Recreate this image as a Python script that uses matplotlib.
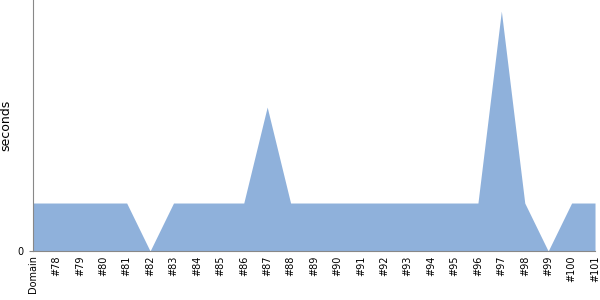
import matplotlib
matplotlib.use('Agg')
import matplotlib.pyplot as plt

# Categorias del eje x y valores (segundos)
categorias = ['Domain'] + [f'#{n}' for n in range(78, 102)]
valores = [1,                      # Domain
           1, 1, 1, 1, 0,          # #78-#82
           1, 1, 1, 1, 3,          # #83-#87
           1, 1, 1, 1, 1,          # #88-#92
           1, 1, 1, 1, 5,          # #93-#97
           1, 0, 1, 1]             # #98-#101

fig = plt.figure(figsize=(6, 3), dpi=100)
ax = fig.add_axes([0.055, 0.1633, 0.9367, 0.8367])

x = list(range(len(categorias)))
ax.fill_between(x, 0, valores, color='#8fb1db', linewidth=0)

ax.set_xlim(0, len(categorias) - 1)
ax.set_ylim(0, 5.23)
ax.set_xticks(x)
ax.set_xticklabels(categorias, rotation=90, fontsize=7)
ax.set_yticks([0])
ax.set_yticklabels(['0'], fontsize=7)
ax.set_ylabel('seconds', fontsize=9)
ax.tick_params(axis='x', length=0, pad=3)
ax.tick_params(axis='y', length=3, color='#888888')

for s in ['top', 'right']:
    ax.spines[s].set_visible(False)
ax.spines['left'].set_color('#888888')
ax.spines['bottom'].set_color('#888888')

fig.savefig('out.png', dpi=100)
